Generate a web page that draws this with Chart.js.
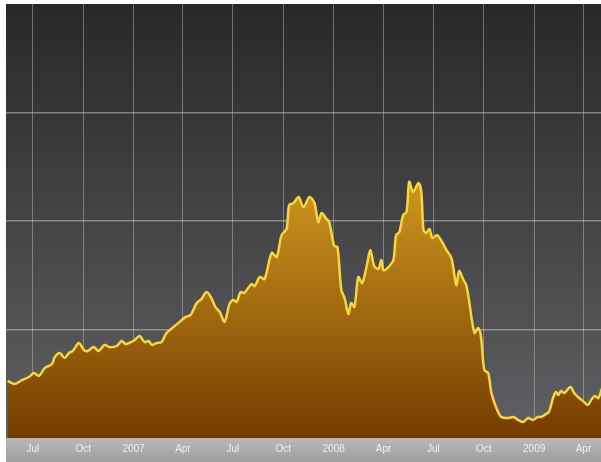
<!DOCTYPE html>
<html>
<head>
<meta charset="utf-8">
<script src="https://cdn.jsdelivr.net/npm/chart.js@4.4.1/dist/chart.umd.min.js"></script>
<style>
  html, body { margin: 0; padding: 0; background: #ffffff; }
  #wrap { width: 601px; height: 462px; position: relative; }
</style>
</head>
<body>
<div id="wrap"><canvas id="indexChart"></canvas></div>
<script>
// Fechas de cada lectura
const dates = [
  '2006-05-16', '2006-05-29', '2006-06-11', '2006-06-24', '2006-07-03', '2006-07-12', '2006-07-23',
  '2006-08-05', '2006-08-10', '2006-08-19', '2006-08-28', '2006-09-05', '2006-09-12', '2006-09-23',
  '2006-10-02', '2006-10-09', '2006-10-20', '2006-10-29', '2006-11-09', '2006-11-18', '2006-12-01',
  '2006-12-10', '2006-12-17', '2006-12-27', '2007-01-03', '2007-01-12', '2007-01-21', '2007-01-28',
  '2007-02-03', '2007-02-12', '2007-02-21', '2007-03-02', '2007-03-15', '2007-03-26', '2007-04-06',
  '2007-04-15', '2007-04-26', '2007-05-05', '2007-05-14', '2007-05-23', '2007-05-30', '2007-06-07',
  '2007-06-16', '2007-06-25', '2007-07-02', '2007-07-08', '2007-07-15', '2007-07-22', '2007-08-04',
  '2007-08-10', '2007-08-19', '2007-08-28', '2007-09-10', '2007-09-19', '2007-09-28', '2007-10-07',
  '2007-10-12', '2007-10-20', '2007-10-29', '2007-11-07', '2007-11-18', '2007-11-27', '2007-12-04',
  '2007-12-10', '2007-12-19', '2007-12-24', '2008-01-02', '2008-01-08', '2008-01-15', '2008-01-21',
  '2008-01-28', '2008-02-02', '2008-02-08', '2008-02-15', '2008-02-22', '2008-03-01', '2008-03-08',
  '2008-03-15', '2008-03-23', '2008-03-28', '2008-04-01', '2008-04-10', '2008-04-19', '2008-04-24',
  '2008-04-30', '2008-05-07', '2008-05-13', '2008-05-18', '2008-05-25', '2008-06-04', '2008-06-09',
  '2008-06-13', '2008-06-18', '2008-06-24', '2008-06-29', '2008-07-08', '2008-07-15', '2008-07-25',
  '2008-08-03', '2008-08-12', '2008-08-17', '2008-08-25', '2008-08-30', '2008-09-04', '2008-09-14',
  '2008-09-21', '2008-09-26', '2008-10-02', '2008-10-09', '2008-10-15', '2008-10-24', '2008-11-02',
  '2008-11-15', '2008-11-24', '2008-12-03', '2008-12-12', '2008-12-21', '2008-12-30', '2009-01-08',
  '2009-01-14', '2009-01-23', '2009-01-28', '2009-02-05', '2009-02-10', '2009-02-14', '2009-02-19',
  '2009-02-25', '2009-03-08', '2009-03-15', '2009-03-22', '2009-03-31', '2009-04-09', '2009-04-15',
  '2009-04-22', '2009-04-28', '2009-05-05'
];

// Valor del indice en cada fecha
const values = [
  2630, 2490, 2670, 2810, 3000, 2860, 3230,
  3410, 3730, 3920, 3690, 3920, 4010, 4380,
  4060, 4010, 4190, 4010, 4290, 4190, 4240,
  4470, 4330, 4420, 4520, 4700, 4420, 4470,
  4290, 4380, 4420, 4840, 5120, 5350, 5580,
  5670, 6220, 6410, 6730, 6450, 6040, 5810,
  5350, 6180, 6360, 6270, 6730, 6680, 7100,
  7000, 7420, 7330, 8530, 8340, 9350, 9630,
  10740, 10830, 11110, 10650, 11110, 10830, 9950,
  10370, 10090, 9950, 8850, 8800, 6820, 6450,
  5710, 6220, 6040, 7420, 7140, 7880, 8660,
  7930, 7790, 8200, 7740, 7880, 8200, 9350,
  9490, 10280, 10410, 11800, 11340, 11750, 11340,
  9590, 9450, 9630, 9220, 9350, 9120, 8660,
  8290, 7050, 7700, 7280, 7050, 6360, 4840,
  5070, 4650, 3130, 3000, 2070, 1380, 970,
  920, 970, 830, 740, 920, 830, 970,
  970, 1110, 1200, 1890, 2120, 1980, 2170,
  2070, 2350, 2070, 1890, 1710, 1520, 1750,
  1940, 1840, 2300
];

// Marcas del eje X (inicio de cada trimestre)
const tickDates = [
  '2006-07-01', '2006-10-01', '2007-01-01', '2007-04-01', '2007-07-01', '2007-10-01',
  '2008-01-01', '2008-04-01', '2008-07-01', '2008-10-01', '2009-01-01', '2009-04-01'
];
const tickLabels = ['Jul', 'Oct', '2007', 'Apr', 'Jul', 'Oct', '2008', 'Apr', 'Jul', 'Oct', '2009', 'Apr'];

const yTicks = [0, 5000, 10000, 15000, 20000];

const toDay = (s) => {
  const [y, m, d] = s.split('-').map(Number);
  return Date.UTC(y, m - 1, d) / 86400000;
};

const points = dates.map((d, i) => ({ x: toDay(d), y: values[i] }));
const tickDays = tickDates.map(toDay);

// Fondo del area del grafico y banda gris del eje
const backgroundPlugin = {
  id: 'background',
  beforeDraw(chart) {
    const { ctx, chartArea } = chart;
    const { left, top, right, bottom } = chartArea;
    ctx.save();
    const bg = ctx.createLinearGradient(0, top, 0, bottom);
    bg.addColorStop(0, '#282828');
    bg.addColorStop(1, '#616165');
    ctx.fillStyle = bg;
    ctx.fillRect(left, top, right - left, bottom - top);

    const band = ctx.createLinearGradient(0, bottom, 0, chart.height);
    band.addColorStop(0, '#b9b9b9');
    band.addColorStop(1, '#9e9e9e');
    ctx.fillStyle = band;
    ctx.fillRect(left, bottom, right - left, chart.height - bottom);
    ctx.restore();
  }
};

const ctx = document.getElementById('indexChart');

new Chart(ctx, {
  type: 'line',
  data: {
    datasets: [{
      data: points,
      borderColor: '#f7d63c',
      borderWidth: 2.5,
      pointRadius: 0,
      tension: 0.3,
      fill: 'origin',
      backgroundColor: (c) => {
        const area = c.chart.chartArea;
        if (!area) return '#a06010';
        const g = c.chart.ctx.createLinearGradient(0, c.chart.scales.y.getPixelForValue(12000), 0, area.bottom);
        g.addColorStop(0, '#cf981f');
        g.addColorStop(1, '#743c00');
        return g;
      }
    }]
  },
  options: {
    responsive: true,
    maintainAspectRatio: false,
    animation: false,
    layout: { padding: { left: 6, top: 4, right: 0, bottom: 0 } },
    plugins: {
      legend: { display: false },
      tooltip: { enabled: false }
    },
    scales: {
      x: {
        type: 'linear',
        min: toDay('2006-05-13'),
        max: toDay('2009-05-03'),
        afterBuildTicks: (scale) => {
          scale.ticks = tickDays.map(v => ({ value: v }));
        },
        afterFit: (scale) => { scale.height = 24; },
        ticks: {
          autoSkip: false,
          maxRotation: 0,
          padding: 5,
          color: '#eeeeee',
          font: { family: 'Liberation Sans', size: 10 },
          callback: (v, i) => tickLabels[i]
        },
        grid: {
          color: 'rgba(200, 200, 200, 0.45)',
          lineWidth: 1,
          drawTicks: false
        },
        border: { display: false }
      },
      y: {
        min: 0,
        max: 20000,
        afterBuildTicks: (scale) => {
          scale.ticks = yTicks.map(v => ({ value: v }));
        },
        afterFit: (scale) => { scale.width = 0; },
        ticks: { display: false },
        grid: {
          color: (c) => (c.tick.value === 0 || c.tick.value === 20000) ? 'rgba(0,0,0,0)' : 'rgba(210, 210, 210, 0.5)',
          lineWidth: 1.5,
          drawTicks: false
        },
        border: { display: false }
      }
    }
  },
  plugins: [backgroundPlugin]
});
</script>
</body>
</html>
